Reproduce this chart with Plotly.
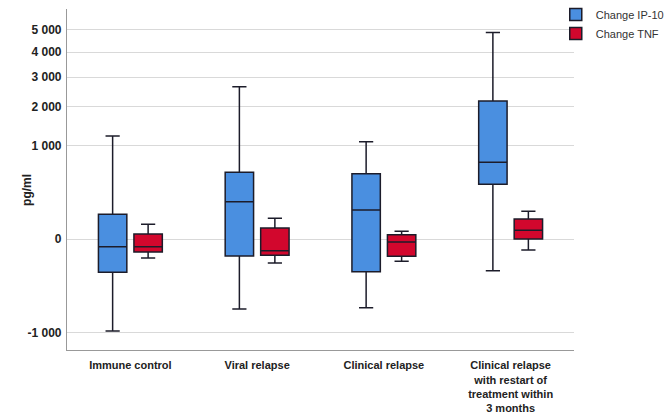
import numpy as np
import plotly.graph_objects as go

groups = ["Immune control", "Viral relapse", "Clinical relapse",
          "Clinical relapse<br>with restart of<br>treatment within<br>3 months"]

# box statistics in pg/ml
ip10_low = [-968, -560, -540, -115]
ip10_q1 = [-127, -33, -122, 342]
ip10_med = [-7, 159, 96, 673]
ip10_q3 = [70, 509, 488, 2178]
ip10_high = [1214, 2653, 1083, 4880]

tnf_low = [-41, -66, -57, -14]
tnf_q1 = [-19, -30, -34, 0]
tnf_med = [-7, -16, -1, 9]
tnf_q3 = [3, 14, 2, 46]
tnf_high = [25, 49, 7, 88]

tick_values = [-1000, 0, 1000, 2000, 3000, 4000, 5000]
tick_labels = ["-1 000", "0", "1 000", "2 000", "3 000", "4 000", "5 000"]


def ssqrt(v):
    # signed square-root scale, in units of sqrt(1000)
    v = np.asarray(v, dtype=float) / 1000.0
    return np.sign(v) * np.sqrt(np.abs(v))


fig = go.Figure()
series = [
    ("Change IP-10", "#4A8FE0", ip10_low, ip10_q1, ip10_med, ip10_q3, ip10_high),
    ("Change TNF", "#D2072D", tnf_low, tnf_q1, tnf_med, tnf_q3, tnf_high),
]
for name, col, lo, q1, med, q3, hi in series:
    fig.add_trace(go.Box(
        x=groups, name=name,
        lowerfence=ssqrt(lo), q1=ssqrt(q1), median=ssqrt(med),
        q3=ssqrt(q3), upperfence=ssqrt(hi),
        fillcolor=col, line=dict(color="#1c1c2a", width=1.5),
        whiskerwidth=0.5, hoverinfo="skip",
    ))

fig.update_layout(
    width=664, height=414,
    margin=dict(l=67, r=90, t=9, b=64, autoexpand=False),
    plot_bgcolor="white", paper_bgcolor="white",
    boxmode="group", boxgap=0.44, boxgroupgap=0.2,
    font=dict(family="Liberation Sans, Arial", size=12, color="#222"),
    legend=dict(xref="container", yref="container", x=0.837, y=1.0,
                xanchor="left", yanchor="top",
                font=dict(size=11, color="#333"), tracegroupgap=0,
                bgcolor="rgba(0,0,0,0)", itemwidth=30),
    showlegend=True,
)
fig.update_xaxes(
    showline=True, linecolor="#999", linewidth=1.2,
    tickfont=dict(size=11, family="Liberation Sans, Arial"),
    ticks="", showgrid=False, automargin=False, ticklabelstandoff=5,
    tickvals=groups, ticktext=["<b>%s</b>" % g for g in groups],
)
fig.update_yaxes(
    range=[-1.187, 2.46], automargin=False,
    tickvals=ssqrt(tick_values), ticktext=["<b>%s</b>" % t for t in tick_labels],
    showline=True, linecolor="#999", linewidth=1.2,
    showgrid=True, gridcolor="#d9d9d9", gridwidth=1.2, zeroline=False,
    ticks="", ticklen=0, ticklabelstandoff=2,
)
fig.add_annotation(
    text="<b>pg/ml</b>", textangle=-90, showarrow=False,
    xref="paper", yref="paper", x=-0.097, y=0.469,
    font=dict(size=12),
)

# drop the default page margin and scrollbars so the figure sits at 0,0
fig.write_html(
    "out.html",
    config={"displayModeBar": False, "responsive": False},
    post_script="document.body.style.margin='0';"
                "document.body.style.overflow='hidden';"
                "document.documentElement.style.overflow='hidden';",
)
